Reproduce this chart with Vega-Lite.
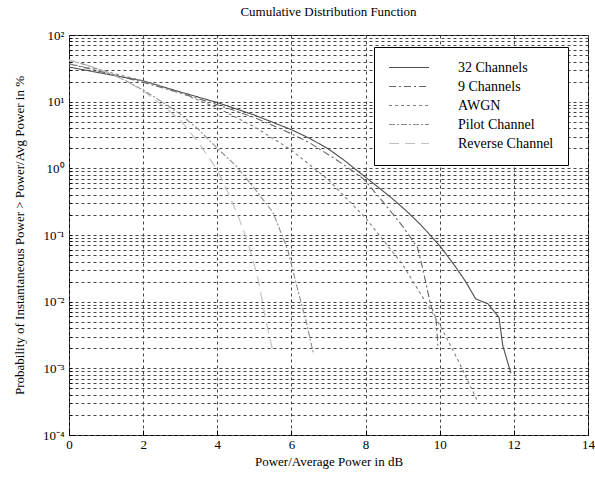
{
  "$schema": "https://vega.github.io/schema/vega-lite/v6.json",
  "width": 519,
  "height": 400,
  "autosize": {"type": "none"},
  "padding": {"left": 69, "top": 35, "right": 7, "bottom": 42},
  "background": "white",
  "config": {
    "font": "Liberation Serif",
    "view": {"stroke": "black", "strokeWidth": 1},
    "legend": {"labelFont": "Liberation Serif"},
    "axis": {"labelFont": "Liberation Serif", "titleFont": "Liberation Serif", "labelFontSize": 13, "titleFontSize": 13, "titleFontWeight": "normal", "labelColor": "black", "titleColor": "black", "domain": false, "gridColor": "#444", "gridDash": [3, 3], "gridWidth": 1, "gridOpacity": 1, "tickColor": "black"}
  },
  "title": {"text": "Cumulative Distribution Function", "font": "Liberation Serif", "fontSize": 13, "fontWeight": "normal", "color": "black", "offset": 10},
  "data": {"values": [
    {"s": "32 Channels", "x": 0, "y": 33},
    {"s": "32 Channels", "x": 1, "y": 26},
    {"s": "32 Channels", "x": 2, "y": 20.5},
    {"s": "32 Channels", "x": 3, "y": 14},
    {"s": "32 Channels", "x": 4, "y": 9.7},
    {"s": "32 Channels", "x": 5, "y": 6.3},
    {"s": "32 Channels", "x": 6, "y": 3.8},
    {"s": "32 Channels", "x": 6.5, "y": 2.8},
    {"s": "32 Channels", "x": 7, "y": 1.95},
    {"s": "32 Channels", "x": 7.4, "y": 1.35},
    {"s": "32 Channels", "x": 7.8, "y": 0.9},
    {"s": "32 Channels", "x": 8.2, "y": 0.6},
    {"s": "32 Channels", "x": 8.7, "y": 0.36},
    {"s": "32 Channels", "x": 9.1, "y": 0.23},
    {"s": "32 Channels", "x": 9.5, "y": 0.14},
    {"s": "32 Channels", "x": 10.03, "y": 0.066},
    {"s": "32 Channels", "x": 10.4, "y": 0.035},
    {"s": "32 Channels", "x": 10.7, "y": 0.02},
    {"s": "32 Channels", "x": 10.97, "y": 0.011},
    {"s": "32 Channels", "x": 11.3, "y": 0.0093},
    {"s": "32 Channels", "x": 11.6, "y": 0.0058},
    {"s": "32 Channels", "x": 11.7, "y": 0.0022},
    {"s": "32 Channels", "x": 11.92, "y": 0.00085},
    {"s": "9 Channels", "x": 0, "y": 37},
    {"s": "9 Channels", "x": 1, "y": 27},
    {"s": "9 Channels", "x": 2, "y": 19.5},
    {"s": "9 Channels", "x": 3, "y": 13.5},
    {"s": "9 Channels", "x": 4, "y": 9},
    {"s": "9 Channels", "x": 5, "y": 5.8},
    {"s": "9 Channels", "x": 6, "y": 3.3},
    {"s": "9 Channels", "x": 6.5, "y": 2.4},
    {"s": "9 Channels", "x": 7, "y": 1.6},
    {"s": "9 Channels", "x": 7.5, "y": 1.05},
    {"s": "9 Channels", "x": 7.95, "y": 0.69},
    {"s": "9 Channels", "x": 8.5, "y": 0.3},
    {"s": "9 Channels", "x": 9.0, "y": 0.135},
    {"s": "9 Channels", "x": 9.4, "y": 0.065},
    {"s": "9 Channels", "x": 9.55, "y": 0.03},
    {"s": "9 Channels", "x": 9.76, "y": 0.0087},
    {"s": "9 Channels", "x": 9.9, "y": 0.0056},
    {"s": "9 Channels", "x": 9.95, "y": 0.0022},
    {"s": "AWGN", "x": 0, "y": 36.8},
    {"s": "AWGN", "x": 1, "y": 28.4},
    {"s": "AWGN", "x": 2, "y": 20.5},
    {"s": "AWGN", "x": 3, "y": 13.6},
    {"s": "AWGN", "x": 4, "y": 8.1},
    {"s": "AWGN", "x": 5, "y": 4.2},
    {"s": "AWGN", "x": 6, "y": 1.87},
    {"s": "AWGN", "x": 7, "y": 0.67},
    {"s": "AWGN", "x": 8, "y": 0.18},
    {"s": "AWGN", "x": 9, "y": 0.036},
    {"s": "AWGN", "x": 10, "y": 0.0045},
    {"s": "AWGN", "x": 10.5, "y": 0.0013},
    {"s": "AWGN", "x": 11, "y": 0.00034},
    {"s": "Pilot Channel", "x": 0, "y": 42},
    {"s": "Pilot Channel", "x": 0.5, "y": 35},
    {"s": "Pilot Channel", "x": 1, "y": 28},
    {"s": "Pilot Channel", "x": 1.5, "y": 21},
    {"s": "Pilot Channel", "x": 2, "y": 15},
    {"s": "Pilot Channel", "x": 2.5, "y": 10},
    {"s": "Pilot Channel", "x": 3, "y": 6.5},
    {"s": "Pilot Channel", "x": 3.5, "y": 3.8},
    {"s": "Pilot Channel", "x": 4, "y": 2.0},
    {"s": "Pilot Channel", "x": 4.5, "y": 1.1},
    {"s": "Pilot Channel", "x": 5, "y": 0.5},
    {"s": "Pilot Channel", "x": 5.5, "y": 0.22},
    {"s": "Pilot Channel", "x": 5.9, "y": 0.06},
    {"s": "Pilot Channel", "x": 6.2, "y": 0.013},
    {"s": "Pilot Channel", "x": 6.4, "y": 0.005},
    {"s": "Pilot Channel", "x": 6.6, "y": 0.0016},
    {"s": "Reverse Channel", "x": 0, "y": 42},
    {"s": "Reverse Channel", "x": 0.5, "y": 35},
    {"s": "Reverse Channel", "x": 1, "y": 28},
    {"s": "Reverse Channel", "x": 1.5, "y": 21},
    {"s": "Reverse Channel", "x": 2, "y": 14.5},
    {"s": "Reverse Channel", "x": 2.5, "y": 9},
    {"s": "Reverse Channel", "x": 3, "y": 5.3},
    {"s": "Reverse Channel", "x": 3.5, "y": 2.4},
    {"s": "Reverse Channel", "x": 4, "y": 0.95},
    {"s": "Reverse Channel", "x": 4.3, "y": 0.42},
    {"s": "Reverse Channel", "x": 4.6, "y": 0.17},
    {"s": "Reverse Channel", "x": 4.85, "y": 0.07},
    {"s": "Reverse Channel", "x": 5.1, "y": 0.022},
    {"s": "Reverse Channel", "x": 5.3, "y": 0.0056},
    {"s": "Reverse Channel", "x": 5.5, "y": 0.0018}
  ]},
  "mark": {"type": "line", "strokeWidth": 1.1, "clip": true},
  "encoding": {
    "x": {"field": "x", "type": "quantitative",
      "scale": {"domain": [0, 14], "nice": false},
      "axis": {"title": "Power/Average Power in dB", "values": [0, 2, 4, 6, 8, 10, 12, 14], "tickSize": -5, "labelPadding": 8, "titlePadding": 4, "labelFlush": false}},
    "y": {"field": "y", "type": "quantitative",
      "scale": {"type": "log", "domain": [0.0001, 100], "nice": false},
      "axis": {"title": "Probability of Instantaneous Power > Power/Avg Power in %", "titlePadding": 16,
        "values": [0.0001, 0.0002, 0.0003, 0.0004, 0.0005, 0.0006, 0.0007, 0.0008, 0.0009, 0.001, 0.002, 0.003, 0.004, 0.005, 0.006, 0.007, 0.008, 0.009, 0.01, 0.02, 0.03, 0.04, 0.05, 0.06, 0.07, 0.08, 0.09, 0.1, 0.2, 0.3, 0.4, 0.5, 0.6, 0.7, 0.8, 0.9, 1, 2, 3, 4, 5, 6, 7, 8, 9, 10, 20, 30, 40, 50, 60, 70, 80, 90, 100],
        "tickSize": -3, "labelPadding": 8,
        "labelExpr": "abs(datum.value - 100) < 1e-6 ? '10²' : abs(datum.value - 10) < 1e-6 ? '10¹' : abs(datum.value - 1) < 1e-9 ? '10⁰' : abs(datum.value - 0.1) < 1e-9 ? '10⁻¹' : abs(datum.value - 0.01) < 1e-10 ? '10⁻²' : abs(datum.value - 0.001) < 1e-11 ? '10⁻³' : abs(datum.value - 0.0001) < 1e-12 ? '10⁻⁴' : ''"}},
    "color": {"field": "s", "type": "nominal",
      "scale": {"domain": ["32 Channels", "9 Channels", "AWGN", "Pilot Channel", "Reverse Channel"], "range": ["#4d4d4d", "#666666", "#808080", "#8c8c8c", "#bfbfbf"]},
      "legend": {"title": null, "orient": "none", "legendX": 305, "legendY": 12, "symbolType": "stroke", "symbolSize": 1600, "clipHeight": 13, "symbolStrokeWidth": 1.1, "labelOffset": 28, "labelFont": "Liberation Serif", "labelFontSize": 14, "labelColor": "black", "rowPadding": 4, "padding": 14, "strokeColor": "black", "fillColor": "white", "labelLimit": 300}},
    "strokeDash": {"field": "s", "type": "nominal",
      "scale": {"domain": ["32 Channels", "9 Channels", "AWGN", "Pilot Channel", "Reverse Channel"], "range": [[1, 0], [7, 3, 2, 3], [3, 3], [6, 2, 2, 2], [10, 6]]},
      "legend": {"title": null}}
  }
}
